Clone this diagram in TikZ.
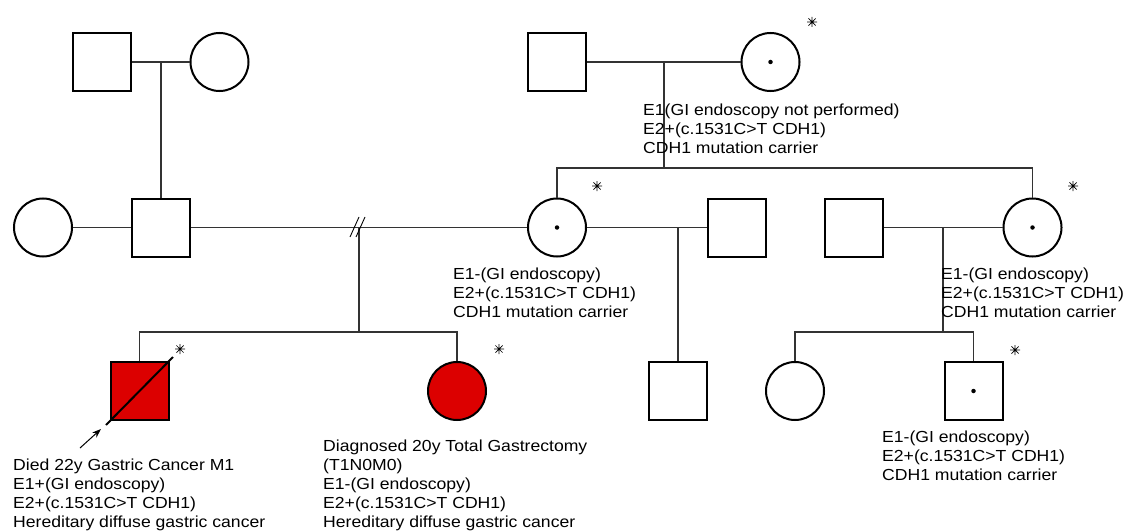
\documentclass[tikz,border=0pt]{standalone}
\usepackage{fontspec}
\setmainfont[FakeStretch=1.1]{Liberation Sans}
\usetikzlibrary{arrows.meta}
\definecolor{affred}{RGB}{220,0,0}
\begin{document}
\begin{tikzpicture}[x=1pt,y=-1pt,
  person/.style={draw,line width=2pt,minimum size=58pt,inner sep=0pt},
  male/.style={person,rectangle},
  female/.style={person,circle},
  link/.style={line width=1.2pt,draw=black!80},
  lbl/.style={font=\fontsize{16}{18.8}\selectfont,align=left,anchor=base west,inner sep=0pt},
  ast/.pic={\draw[line width=0.7pt] (-5,0)--(5,0) (0,-5)--(0,5) (-3.6,-3.6)--(3.6,3.6) (-3.6,3.6)--(3.6,-3.6);},
  cdot/.style={fill=black,circle,inner sep=0pt,minimum size=4.5pt}]
\useasboundingbox (0,0) rectangle (1126,532);
% generation I
\node[male]   (gf1) at (102,62) {};
\node[female] (gm1) at (219.5,62) {};
\node[male]   (gf2) at (556.5,62) {};
\node[female] (gm2) at (770.5,62) {};
% generation II
\node[female] (w1) at (43,227.5) {};
\node[male]   (fa) at (161,227.5) {};
\node[female] (mo) at (557,227.5) {};
\node[male]   (sf) at (736.5,227.5) {};
\node[male]   (un) at (853.5,227.5) {};
\node[female] (au) at (1032.5,227.5) {};
% generation III
\node[male,fill=affred]   (pb) at (139.5,391) {};
\node[female,fill=affred] (si) at (457,391) {};
\node[male]   (hb) at (678,391) {};
\node[female] (cf) at (795,391) {};
\node[male]   (cm) at (973.5,391) {};
% carrier dots
\node[cdot] at (gm2) {};
\node[cdot] at (mo) {};
\node[cdot] at (au) {};
\node[cdot] at (cm) {};
% coordinates
\coordinate (m1) at (161,62);
\coordinate (m2) at (664,62);
\coordinate (s2) at (664,168);
\coordinate (br) at (359,227.5);
\coordinate (s1) at (359,332);
\coordinate (m3) at (678,227.5);
\coordinate (m4) at (943,227.5);
\coordinate (s4) at (943,332);
% lines
\draw[link] (gf1.east) -- (gm1.west);
\draw[link] (m1) -- (fa.north);
\draw[link] (w1.east) -- (fa.west);
\draw[link] (fa.east) -- (mo.west);
\draw[link] (br) -- (s1);
\draw[link] (pb.north) -- (pb.north |- s1) -- (si.north |- s1) -- (si.north);
\draw[line width=0.9pt] (350,237) -- (359,217) (356,237) -- (365,217);
\draw[link] (gf2.east) -- (gm2.west);
\draw[link] (m2) -- (s2);
\draw[link] (mo.north) -- (mo.north |- s2) -- (au.north |- s2) -- (au.north);
\draw[link] (mo.east) -- (sf.west);
\draw[link] (m3) -- (hb.north);
\draw[link] (un.east) -- (au.west);
\draw[link] (m4) -- (s4);
\draw[link] (cf.north) -- (cf.north |- s4) -- (cm.north |- s4) -- (cm.north);
% deceased line and proband arrow
\coordinate (d1) at (106,425);
\coordinate (d2) at (173,357);
\draw[line width=2pt] (d1) -- (d2);
\coordinate (a1) at (80,448);
\draw[line width=1pt,-{Stealth[length=9pt,width=6.5pt]}] (a1) -- (101,429);
% asterisks
\pic at (812,22) {ast};
\pic at (597,186) {ast};
\pic at (1073,186) {ast};
\pic at (180,349) {ast};
\pic at (499,349) {ast};
\pic at (1015,350) {ast};
% labels (anchored at baseline of last line)
\node[lbl] (t1) at (643,153) {E1(GI endoscopy not performed)\\E2+(c.1531C>T CDH1)\\CDH1 mutation carrier};
\node[lbl] (t2) at (453,317) {E1-(GI endoscopy)\\E2+(c.1531C>T CDH1)\\CDH1 mutation carrier};
\node[lbl] (t3) at (941,317) {E1-(GI endoscopy)\\E2+(c.1531C>T CDH1)\\CDH1 mutation carrier};
\node[lbl] (t4) at (13,527) {Died 22y Gastric Cancer M1\\E1+(GI endoscopy)\\E2+(c.1531C>T CDH1)\\Hereditary diffuse gastric cancer};
\node[lbl] (t5) at (323,527) {Diagnosed 20y Total Gastrectomy\\(T1N0M0)\\E1-(GI endoscopy)\\E2+(c.1531C>T CDH1)\\Hereditary diffuse gastric cancer};
\node[lbl] (t6) at (882,480) {E1-(GI endoscopy)\\E2+(c.1531C>T CDH1)\\CDH1 mutation carrier};
\end{tikzpicture}
\end{document}
